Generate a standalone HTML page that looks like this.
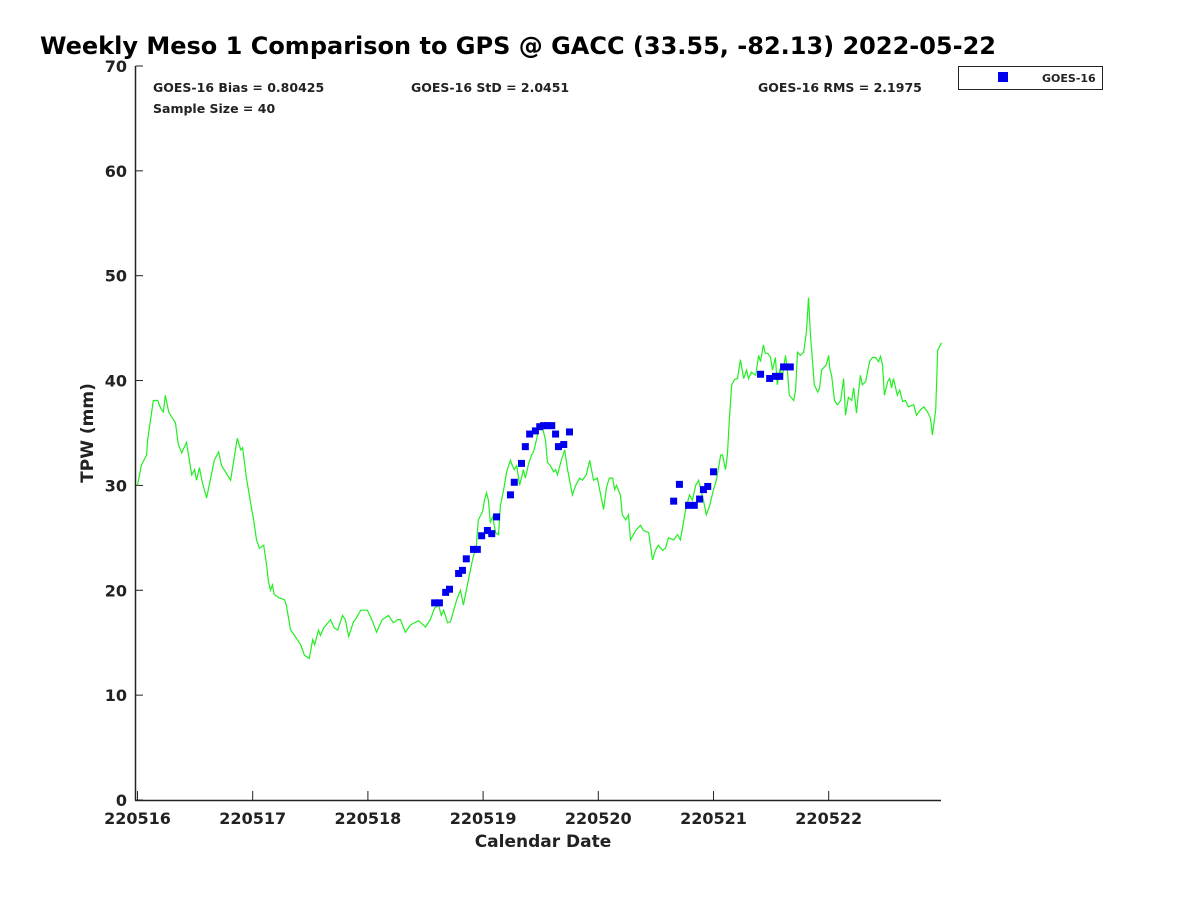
<!DOCTYPE html>
<html><head><meta charset="utf-8"><style>
body{margin:0;background:#fff}
svg text{font-family:"DejaVu Sans","Liberation Sans",sans-serif;font-weight:bold;fill:#222}
</style></head><body>
<svg width="1200" height="900" xmlns="http://www.w3.org/2000/svg">
<text x="40" y="54" font-size="24" style="fill:#000">Weekly Meso 1 Comparison to GPS @ GACC (33.55, -82.13) 2022-05-22</text>
<g id="axes"></g>
<g id="series"></g>
<text x="153" y="92" font-size="12.5">GOES-16 Bias = 0.80425</text>
<text x="153" y="113" font-size="12.5">Sample Size = 40</text>
<text x="411" y="92" font-size="12.5">GOES-16 StD = 2.0451</text>
<text x="758" y="92" font-size="12.5">GOES-16 RMS = 2.1975</text>
<g>
<rect x="958.5" y="66.5" width="144" height="23" fill="#fff" stroke="#222" stroke-width="1"/>
<rect x="998" y="72" width="10" height="10" fill="#0000ee"/>
<text x="1042" y="82" font-size="11">GOES-16</text>
</g>
<text x="543" y="847" font-size="17" text-anchor="middle">Calendar Date</text>
<text transform="translate(93,433) rotate(-90)" font-size="17" text-anchor="middle">TPW (mm)</text>
</svg>
<script>
const xTickLabels=["220516","220517","220518","220519","220520","220521","220522"];
const yTickValues=[0,10,20,30,40,50,60,70];
const gpsHours=[0,0.8,1.9,2.1,3.3,4.2,4.8,5.4,5.8,6.5,7.3,7.9,8.5,9.2,10.2,11.3,11.9,12.3,12.9,13.5,14.4,16.0,16.9,17.5,19.4,20.8,21.5,21.9,22.7,23.8,24.2,24.8,25.4,26.3,26.9,27.3,27.7,28.1,28.5,29.4,30.6,31.0,31.9,32.7,34.0,34.8,35.8,36.5,36.9,37.7,38.1,38.8,40.2,41.0,41.7,42.7,43.3,44.0,45.0,45.4,46.5,47.9,49.0,49.8,51.0,52.3,53.3,54.2,54.8,55.8,56.9,58.5,60.0,61.0,61.9,62.7,63.3,63.8,64.6,65.2,66.5,67.3,67.9,68.5,69.8,70.6,71.0,71.9,72.3,72.7,73.1,73.5,74.0,74.6,75.2,75.6,76.3,76.9,77.7,77.9,78.5,79.0,79.6,80.4,80.8,81.5,82.1,82.5,83.1,83.5,84.4,85.0,85.4,86.0,86.7,87.1,87.5,88.3,89.0,89.6,90.6,91.3,92.1,92.7,93.5,94.2,95.0,95.8,96.5,97.1,97.7,98.3,99.0,99.4,99.8,100.6,101.0,101.7,102.3,102.7,103.8,104.8,105.4,106.5,107.3,107.9,108.5,109.4,110.0,110.6,111.7,112.5,113.1,114.2,115.0,115.6,116.3,116.9,117.9,118.5,119.2,120.0,120.6,121.5,121.9,122.5,122.9,123.3,123.8,124.4,125.0,125.6,126.3,126.9,127.3,127.9,128.8,129.4,129.8,130.4,130.8,131.3,131.9,132.3,132.9,133.3,133.8,134.4,135.0,135.4,135.8,136.7,137.1,137.5,138.1,138.8,139.4,139.8,140.2,140.6,141.0,141.7,142.1,142.5,142.9,143.5,144.0,144.2,144.6,145.2,145.8,146.5,147.1,147.5,148.1,148.8,149.2,149.8,150.2,150.6,151.0,151.7,152.5,153.1,153.8,154.4,154.8,155.2,155.6,156.3,156.7,157.1,157.5,158.3,158.8,159.4,160.0,160.6,161.7,162.3,163.1,163.8,164.6,165.2,165.6,166.3,166.7,167.5];
const gpsValues=[30.0,31.9,32.9,34.3,38.1,38.1,37.4,37.0,38.6,37.0,36.4,36.0,33.9,33.1,34.1,31.0,31.5,30.5,31.7,30.3,28.8,32.4,33.2,31.9,30.5,34.5,33.4,33.6,30.7,27.7,26.7,24.8,24.0,24.3,22.4,20.8,20.0,20.5,19.6,19.3,19.1,18.6,16.2,15.7,14.8,13.8,13.5,15.3,14.8,16.2,15.7,16.4,17.2,16.4,16.2,17.6,17.2,15.6,17.0,17.2,18.1,18.1,17.0,16.0,17.2,17.6,16.9,17.2,17.2,16.0,16.7,17.1,16.5,17.2,18.3,18.6,17.6,18.1,16.9,17.0,19.1,20.0,18.6,20.0,22.9,24.3,26.7,27.5,28.6,29.3,28.6,26.5,27.0,25.5,25.3,28.1,29.6,31.3,32.4,32.1,31.5,31.9,30.0,31.5,30.7,32.1,32.9,33.2,34.3,35.3,35.5,34.3,32.2,31.9,31.3,31.5,31.0,32.4,33.4,31.5,29.1,30.0,30.7,30.5,31.0,32.4,30.5,30.7,29.1,27.7,29.8,30.7,30.7,29.6,30.0,29.1,27.2,26.7,27.2,24.8,25.7,26.2,25.7,25.5,22.9,23.8,24.3,23.8,24.0,25.0,24.8,25.3,24.8,27.7,29.1,28.6,30.0,30.5,28.6,27.2,28.1,29.6,30.5,32.9,32.9,31.5,32.9,36.2,39.6,40.1,40.2,42.0,40.2,41.0,40.2,40.8,40.5,42.4,41.8,43.4,42.6,42.6,42.2,41.0,42.2,39.6,41.0,40.5,42.4,41.0,38.6,38.1,39.1,42.7,42.4,42.7,44.8,47.9,44.3,42.0,39.6,38.9,39.3,41.0,41.2,41.5,42.4,41.2,40.5,38.1,37.7,38.1,40.2,36.7,38.4,38.1,39.3,36.9,38.9,40.5,39.6,39.9,41.8,42.2,42.2,41.8,42.3,41.5,38.6,39.9,40.2,39.3,40.2,38.6,39.1,38.0,38.1,37.5,37.7,36.7,37.2,37.5,37.0,36.4,34.8,37.2,42.9,43.6];
const goesHours=[61.9,62.9,64.2,65.0,66.9,67.7,68.5,70.0,70.8,71.7,72.9,73.8,74.8,77.7,78.5,80.0,80.8,81.7,82.9,83.8,84.6,85.4,86.3,87.1,87.7,88.8,90.0,111.7,112.9,114.8,116.0,117.1,117.9,118.8,120.0,129.8,131.7,132.9,133.8,134.6,136.0];
const goesValues=[18.8,18.8,19.8,20.1,21.6,21.9,23.0,23.9,23.9,25.2,25.7,25.4,27.0,29.1,30.3,32.1,33.7,34.9,35.2,35.6,35.7,35.7,35.7,34.9,33.7,33.9,35.1,28.5,30.1,28.1,28.1,28.7,29.6,29.9,31.3,40.6,40.2,40.4,40.4,41.3,41.3];

const NS="http://www.w3.org/2000/svg";
const X0=137.5, PXH=4.8, Y0=800, PXV=10.486;
function xs(h){return X0+h*PXH;}
function ys(v){return Y0-v*PXV;}
function mk(tag,attrs,parent){const e=document.createElementNS(NS,tag);for(const k in attrs)e.setAttribute(k,attrs[k]);parent.appendChild(e);return e;}
const axes=document.getElementById('axes'), series=document.getElementById('series');
let l=mk('line',{x1:135.5,y1:ys(70),x2:135.5,y2:800.5,stroke:'#222','stroke-width':1.5},axes);


l=mk('line',{x1:135,y1:800.5,x2:941,y2:800.5,stroke:'#222','stroke-width':1.5},axes);


yTickValues.forEach(v=>{
  const y=ys(v);
  const t=mk('line',{x1:135.5,y1:y,x2:143,y2:y,stroke:'#222','stroke-width':1},axes);
  
  
  const tx=mk('text',{x:127,y:y+6,'font-size':16,'text-anchor':'end'},axes);
  tx.textContent=v;
  
  
});
xTickLabels.forEach((lab,i)=>{
  const x=xs(i*24);
  const t=mk('line',{x1:x,y1:800,x2:x,y2:791,stroke:'#222','stroke-width':1},axes);
  
  
  const tx=mk('text',{x:x,y:824,'font-size':16,'text-anchor':'middle'},axes);
  tx.textContent=lab;
  
  
});
const pts=gpsHours.map((h,i)=>xs(h).toFixed(1)+','+ys(gpsValues[i]).toFixed(1)).join(' ');
const pl=mk('polyline',{points:pts,fill:'none',stroke:'#22ee22','stroke-width':1.2},series);


goesHours.forEach((h,i)=>{
  const r=mk('rect',{x:xs(h)-3.5,y:ys(goesValues[i])-3.5,width:7,height:7,fill:'#0000ee'},series);
  
  
});
</script>
</body></html>
